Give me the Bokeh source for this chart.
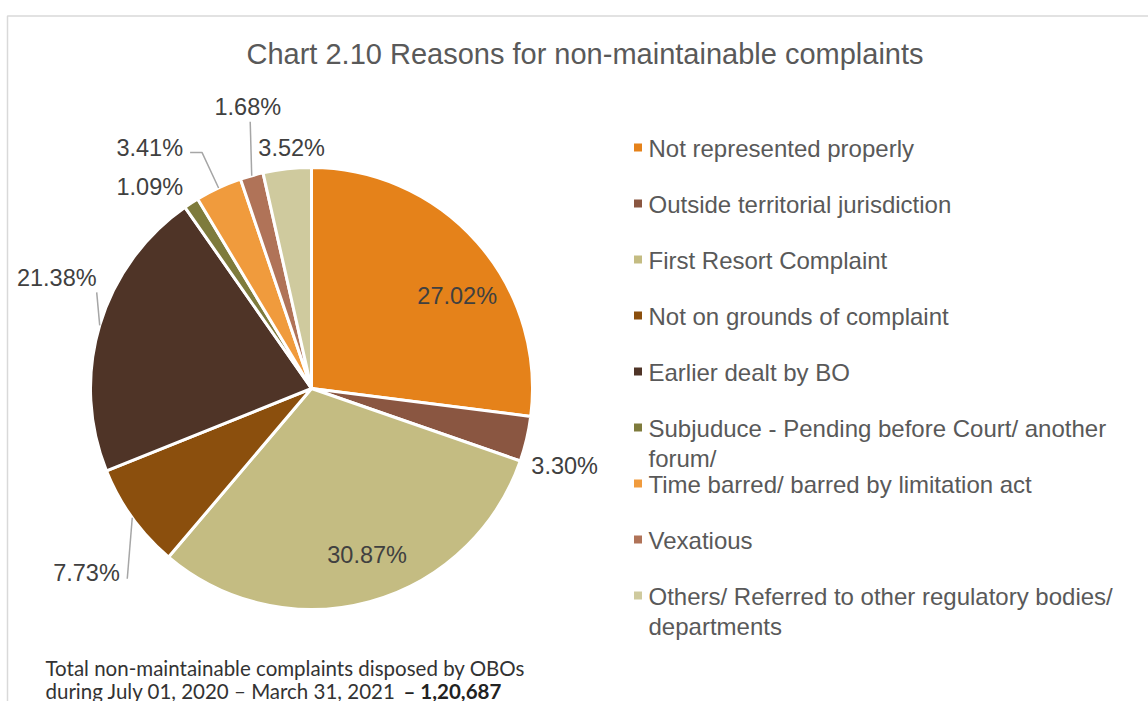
import numpy as np
from bokeh.plotting import figure
from bokeh.models import Range1d
from bokeh.core.properties import value
from bokeh.embed import file_html
from bokeh.resources import INLINE

# ---------------- data ----------------
categories = [
    "Not represented properly",
    "Outside territorial jurisdiction",
    "First Resort Complaint",
    "Not on grounds of complaint",
    "Earlier dealt by BO",
    "Subjuduce - Pending before Court/ another forum/",
    "Time barred/ barred by limitation act",
    "Vexatious",
    "Others/ Referred to other regulatory bodies/ departments",
]
legend_labels = [
    "Not represented properly",
    "Outside territorial jurisdiction",
    "First Resort Complaint",
    "Not on grounds of complaint",
    "Earlier dealt by BO",
    "Subjuduce - Pending before Court/ another\nforum/",
    "Time barred/ barred by limitation act",
    "Vexatious",
    "Others/ Referred to other regulatory bodies/\ndepartments",
]
shares = [27.02, 3.30, 30.87, 7.73, 21.38, 1.09, 3.41, 1.68, 3.52]
colors = ["#E5821A", "#8A5641", "#C4BC82", "#8B4F0D", "#4F3427",
          "#7E7B3C", "#F09B3D", "#B07358", "#CFCA9E"]
title_text = "Chart 2.10 Reasons for non-maintainable complaints"
note_line1 = "Total non-maintainable complaints disposed by OBOs"
note_line2 = "during July 01, 2020 \u2013 March 31, 2021 "
note_total = "\u2013 1,20,687"

# ---------------- layout (styling) ----------------
W, H = 1148, 701
def sy(y):  # screen y -> data y
    return H - y

CX, CY, R = 311, sy(388), 221
label_rf = [0.8, 1.2, 0.8, 1.3, 1.25, 1.17, 1.3, 1.3, 1.1]
label_nudge = [(13, 24), (-5, 17), (9, -4), (8, 16), (10, -32),
               (-21, 15), (-41, 20.5), (14, -5), (7, 1.5)]
leader_offsets = {3: [(-5, 61)], 4: [(-3, -33)],
                  6: [(-16.5, -35.4), (-28.5, -35.4)], 7: [(-1.5, -54)]}

p = figure(width=W, height=H, output_backend="svg", toolbar_location=None,
           x_range=Range1d(0, W), y_range=Range1d(0, H),
           x_axis_location=None, y_axis_location=None, min_border=0,
           background_fill_color="white", border_fill_color="white")
p.outline_line_color = None
p.grid.visible = False

# frame lines
p.line(x=[7, 7, W], y=[0, sy(15.5), sy(15.5)],
       line_color="#d9d9d9", line_width=1.5)

# pie
vals = np.array(shares, dtype=float)
frac = vals / vals.sum()
cum = np.concatenate([[0.0], np.cumsum(frac)])
a0 = cum[:-1] * 360.0
a1 = cum[1:] * 360.0
start = np.radians(90.0 - a1)
end = np.radians(90.0 - a0)
p.wedge(x=CX, y=CY, radius=R, start_angle=start, end_angle=end,
        fill_color=colors, line_color="white", line_width=3)

mid = np.radians((a0 + a1) / 2.0)
ux, uy = np.sin(mid), np.cos(mid)

# leader lines
xs, ys = [], []
for i, offs in leader_offsets.items():
    ex, ey = CX + R * ux[i], CY + R * uy[i]
    lx, ly = [ex], [ey]
    for dx, dy in offs:
        lx.append(ex + dx)
        ly.append(ey - dy)
    xs.append(lx)
    ys.append(ly)
p.multi_line(xs=xs, ys=ys, line_color="#a6a6a6", line_width=1.5)

# data labels
lab_x = [CX + label_rf[i] * R * ux[i] + label_nudge[i][0] for i in range(len(shares))]
lab_y = [CY + label_rf[i] * R * uy[i] - label_nudge[i][1] for i in range(len(shares))]
lab_t = [f"{v:.2f}%" for v in shares]
p.text(x=lab_x, y=lab_y, text=lab_t, text_align="center", text_baseline="middle",
       text_font=value("Liberation Sans"), text_font_size="23.5px", text_color="#404040")

# title
p.text(x=[584.5], y=[sy(53)], text=[title_text], text_align="center", text_baseline="middle",
       text_font=value("Liberation Sans"), text_font_size="29px", text_color="#595959")

# legend
n = len(categories)
row_y = [sy(147 + 56 * i) for i in range(n)]
p.rect(x=[637.5] * n, y=row_y, width=8, height=8, fill_color=colors, line_color=None)
p.text(x=[648] * n, y=[y + 13 for y in row_y], text=legend_labels, text_align="left",
       text_baseline="top", text_line_height=1.125,
       text_font=value("Liberation Sans"), text_font_size="24px", text_color="#595959")

# footnote
p.text(x=[45, 45], y=[sy(667), sy(690)], text=[note_line1, note_line2],
       text_align="left", text_baseline="alphabetic",
       text_font=value("Lato"), text_font_size="20.5px", text_color="#333333")
p.text(x=[403], y=[sy(690)], text=[note_total], text_align="left",
       text_baseline="alphabetic", text_font=value("Lato"), text_font_size="20.5px",
       text_font_style="bold", text_color="#222222")

open("out.html", "w").write(file_html(p, INLINE))
